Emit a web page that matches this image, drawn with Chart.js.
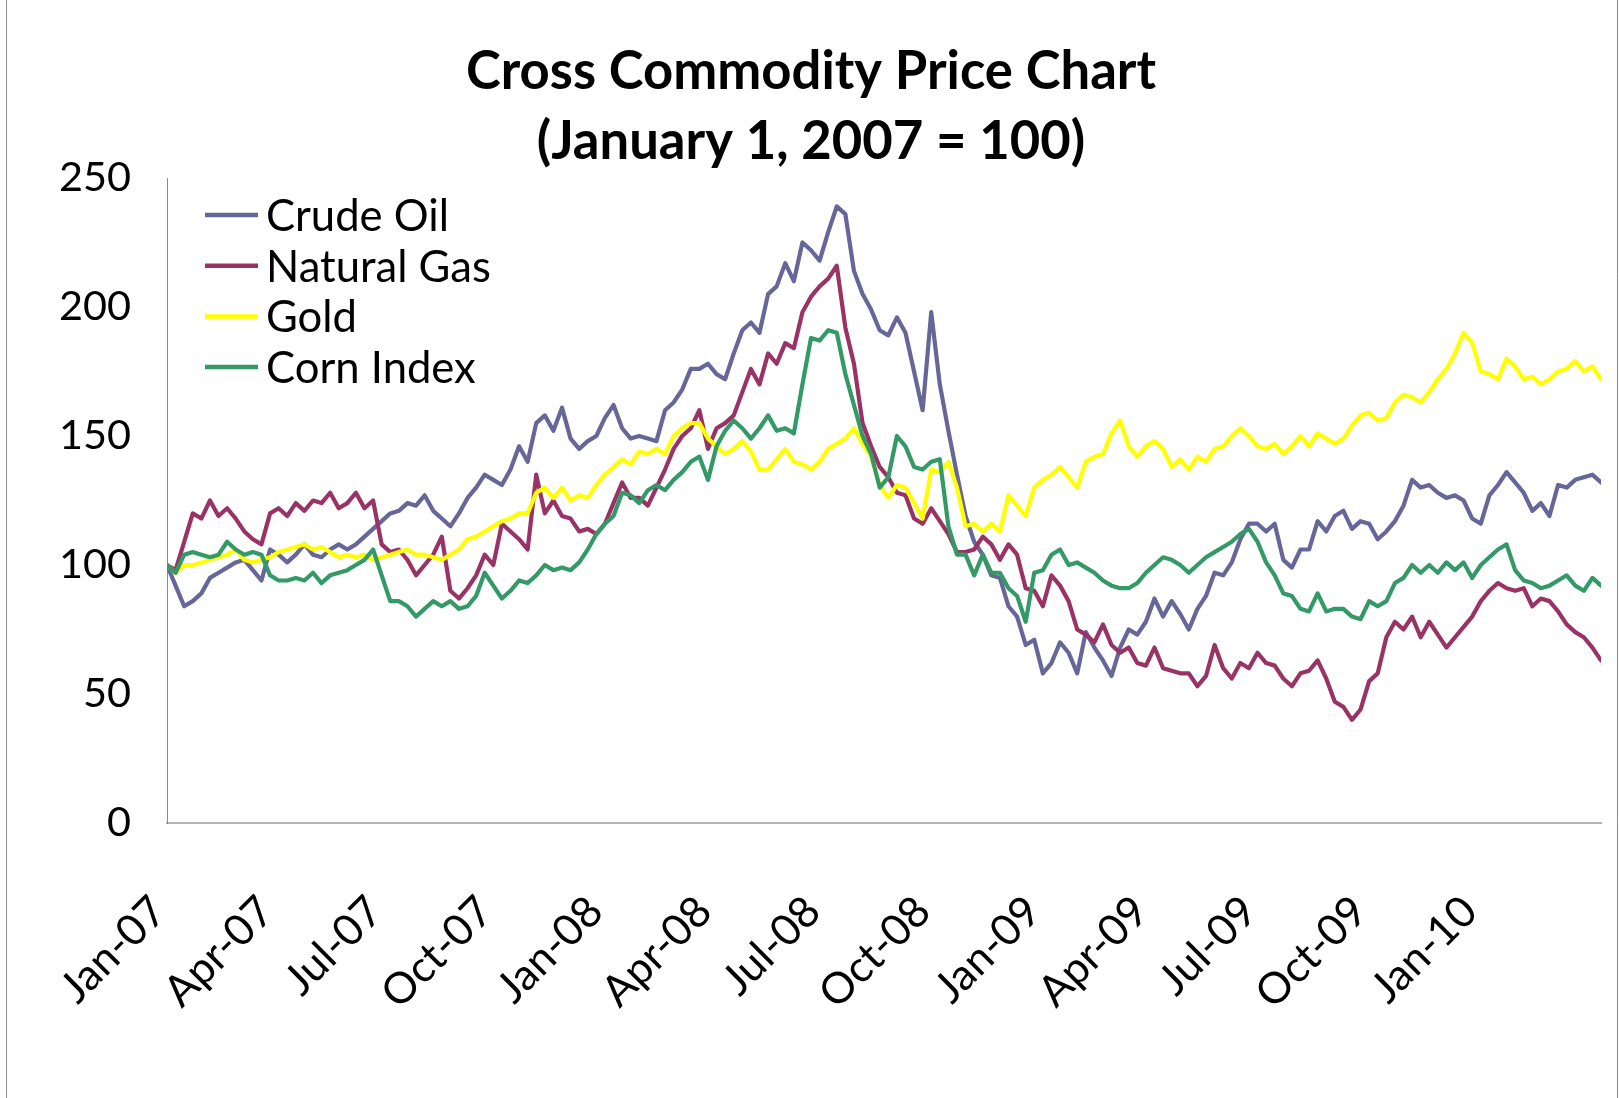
<!DOCTYPE html>
<html>
<head>
<meta charset="utf-8">
<title>Cross Commodity Price Chart</title>
<script src="https://cdn.jsdelivr.net/npm/chart.js@4.4.1/dist/chart.umd.min.js"></script>
<style>
    html, body { margin: 0; padding: 0; background: #ffffff; }
    #wrap { position: relative; width: 1619px; height: 1098px; }
</style>
</head>
<body>
<div id="wrap"><canvas id="precoChart" width="1619" height="1098"></canvas></div>
<script>
// Valores (1 jan 2007 = 100), um ponto a cada ~7 dias
const stepDays = 7.18;

const crudeOil = [
    100, 92, 84, 86, 89, 95, 97, 99, 101, 102, 98, 94, 106, 104, 101, 104, 108, 104, 103, 106, 108,
    106, 108, 111, 114, 117, 120, 121, 124, 123, 127, 121, 118, 115, 120, 126, 130, 135, 133, 131, 137, 146,
    140, 155, 158, 152, 161, 149, 145, 148, 150, 157, 162, 153, 149, 150, 149, 148, 160, 163, 168, 176, 176,
    178, 174, 172, 182, 191, 194, 190, 205, 208, 217, 210, 225, 222, 218, 229, 239, 236, 214, 205, 199, 191,
    189, 196, 190, 175, 160, 198, 170, 152, 135, 119, 109, 104, 96, 95, 84, 80, 69, 71, 58, 62, 70,
    66, 58, 74, 68, 63, 57, 68, 75, 73, 78, 87, 80, 86, 81, 75, 83, 88, 97, 96, 101, 110,
    116, 116, 113, 116, 102, 99, 106, 106, 117, 113, 119, 121, 114, 117, 116, 110, 113, 117, 123, 133, 130,
    131, 128, 126, 127, 125, 118, 116, 127, 131, 136, 132, 128, 121, 124, 119, 131, 130, 133, 134, 135, 132
];

const naturalGas = [
    100, 98, 109, 120, 118, 125, 119, 122, 118, 113, 110, 108, 120, 122, 119, 124, 121, 125, 124, 128, 122,
    124, 128, 122, 125, 108, 105, 106, 102, 96, 100, 104, 111, 90, 87, 91, 96, 104, 100, 116, 113, 110,
    106, 135, 120, 125, 119, 118, 113, 114, 112, 116, 124, 132, 126, 126, 123, 130, 137, 145, 150, 153, 160,
    145, 153, 155, 158, 167, 176, 170, 182, 178, 186, 184, 198, 204, 208, 211, 216, 192, 178, 155, 146, 138,
    134, 128, 127, 118, 116, 122, 117, 112, 105, 105, 106, 111, 108, 102, 108, 104, 91, 90, 84, 96, 92,
    86, 75, 73, 70, 77, 69, 66, 68, 62, 61, 68, 60, 59, 58, 58, 53, 57, 69, 60, 56, 62,
    60, 66, 62, 61, 56, 53, 58, 59, 63, 56, 47, 45, 40, 44, 55, 58, 72, 78, 75, 80, 72,
    78, 73, 68, 72, 76, 80, 86, 90, 93, 91, 90, 91, 84, 87, 86, 82, 77, 74, 72, 68, 63
];

const gold = [
    100, 97, 100, 100, 101, 102, 103, 104, 106, 102, 101, 102, 103, 105, 106, 107, 108, 106, 107, 105, 103,
    104, 103, 104, 102, 103, 104, 105, 106, 104, 104, 103, 102, 104, 106, 110, 111, 113, 115, 117, 118, 120,
    120, 128, 130, 126, 130, 125, 127, 126, 131, 135, 138, 141, 139, 144, 143, 145, 143, 150, 153, 155, 155,
    149, 146, 143, 145, 148, 144, 137, 137, 141, 145, 140, 139, 137, 140, 145, 147, 149, 153, 147, 142, 131,
    126, 131, 130, 124, 118, 137, 136, 140, 130, 115, 116, 113, 116, 113, 127, 123, 119, 130, 133, 135, 138,
    134, 130, 140, 142, 143, 151, 156, 146, 142, 146, 148, 145, 138, 141, 137, 142, 140, 145, 146, 150, 153,
    150, 146, 145, 147, 143, 146, 150, 146, 151, 149, 147, 149, 154, 158, 159, 156, 157, 163, 166, 165, 163,
    167, 172, 176, 182, 190, 186, 175, 174, 172, 180, 177, 172, 173, 170, 172, 175, 176, 179, 175, 177, 172
];

const cornIndex = [
    100, 97, 104, 105, 104, 103, 104, 109, 106, 104, 105, 104, 96, 94, 94, 95, 94, 97, 93, 96, 97,
    98, 100, 102, 106, 96, 86, 86, 84, 80, 83, 86, 84, 86, 83, 84, 88, 97, 92, 87, 90, 94,
    93, 96, 100, 98, 99, 98, 101, 106, 112, 116, 119, 128, 127, 124, 129, 131, 129, 133, 136, 140, 142,
    133, 146, 152, 156, 153, 149, 153, 158, 152, 153, 151, 170, 188, 187, 191, 190, 174, 162, 150, 143, 130,
    134, 150, 146, 138, 137, 140, 141, 115, 104, 104, 96, 104, 97, 97, 91, 88, 78, 97, 98, 104, 106,
    100, 101, 99, 97, 94, 92, 91, 91, 93, 97, 100, 103, 102, 100, 97, 100, 103, 105, 107, 109, 112,
    114, 109, 101, 96, 89, 88, 83, 82, 89, 82, 83, 83, 80, 79, 86, 84, 86, 93, 95, 100, 97,
    100, 97, 101, 98, 101, 95, 100, 103, 106, 108, 98, 94, 93, 91, 92, 94, 96, 92, 90, 95, 92
];

// Rótulos do eixo X: dias desde 1 jan 2007 no início de cada trimestre
const tickDays = [0, 90, 181, 273, 365, 456, 547, 639, 731, 821, 912, 1004, 1096];
const tickLabels = ['Jan-07', 'Apr-07', 'Jul-07', 'Oct-07', 'Jan-08', 'Apr-08', 'Jul-08',
    'Oct-08', 'Jan-09', 'Apr-09', 'Jul-09', 'Oct-09', 'Jan-10'];

const seriesNames = ['Crude Oil', 'Natural Gas', 'Gold', 'Corn Index'];
const seriesValues = [crudeOil, naturalGas, gold, cornIndex];
const seriesColors = ['#666699', '#993366', '#FFFF00', '#339966'];

const titleLines = ['Cross Commodity Price Chart', '(January 1, 2007 = 100)'];

const fontFamily = 'Lato, "Open Sans", sans-serif';

// Ajusta o tamanho da fonte para a largura medida na imagem
function fitFontSize(text, weight, targetWidth) {
    const ctx = document.createElement('canvas').getContext('2d');
    ctx.font = `${weight} 100px ${fontFamily}`;
    return Math.round(1000 * targetWidth / ctx.measureText(text).width) / 10;
}

const titleSize = fitFontSize(titleLines[0], 'bold', 690);
const tickSize = fitFontSize('250', 'normal', 72);
const xTickSize = Math.round(tickSize * 1.04 * 10) / 10;
const legendSize = fitFontSize('Natural Gas', 'normal', 225);

function toPoints(values) {
    return values.map((v, i) => ({ x: i * stepDays, y: v }));
}

const lastDay = (crudeOil.length - 1) * stepDays;

// Borda externa da área do gráfico (estilo Excel)
const outerBorder = {
    id: 'outerBorder',
    beforeDraw(chart) {
        const ctx = chart.ctx;
        ctx.save();
        ctx.fillStyle = '#ffffff';
        ctx.fillRect(0, 0, chart.width, chart.height);
        ctx.strokeStyle = '#8c8c8c';
        ctx.lineWidth = 1;
        ctx.beginPath();
        ctx.moveTo(6.5, 0);
        ctx.lineTo(6.5, chart.height);
        ctx.moveTo(chart.width - 1.5, 0);
        ctx.lineTo(chart.width - 1.5, chart.height);
        ctx.stroke();
        ctx.restore();
    }
};

// Legenda dentro da área de plotagem, canto superior esquerdo
const insideLegend = {
    id: 'insideLegend',
    afterDraw(chart) {
        const ctx = chart.ctx;
        const area = chart.chartArea;
        ctx.save();
        ctx.font = `normal ${legendSize}px ${fontFamily}`;
        ctx.textBaseline = 'middle';
        ctx.textAlign = 'left';
        chart.data.datasets.forEach((ds, i) => {
            const y = area.top + 37 + i * 50.7;
            ctx.strokeStyle = ds.borderColor;
            ctx.lineWidth = 4.5;
            ctx.beginPath();
            ctx.moveTo(area.left + 38, y);
            ctx.lineTo(area.left + 91, y);
            ctx.stroke();
            ctx.fillStyle = '#000000';
            ctx.fillText(ds.label, area.left + 99, y + 2);
        });
        ctx.restore();
    }
};

const ctx = document.getElementById('precoChart').getContext('2d');
new Chart(ctx, {
    type: 'line',
    data: {
        datasets: seriesNames.map((name, i) => ({
            label: name,
            data: toPoints(seriesValues[i]),
            borderColor: seriesColors[i],
            backgroundColor: seriesColors[i],
            borderWidth: 4.2,
            borderJoinStyle: 'round',
            borderCapStyle: 'round',
            pointRadius: 0,
            tension: 0,
            fill: false,
            order: seriesNames.length - i
        }))
    },
    options: {
        responsive: false,
        animation: false,
        devicePixelRatio: 1,
        layout: {
            padding: { left: 21, right: 18, top: 0, bottom: 0 }
        },
        plugins: {
            legend: { display: false },
            tooltip: { enabled: false },
            title: {
                display: true,
                text: titleLines,
                color: '#000000',
                font: { family: fontFamily, weight: 'bold', size: titleSize, lineHeight: '70px' },
                padding: { top: 37, bottom: 1 }
            }
        },
        scales: {
            x: {
                type: 'linear',
                min: 0,
                max: lastDay,
                afterBuildTicks: scale => {
                    scale.ticks = tickDays.map(d => ({ value: d }));
                },
                afterFit: scale => {
                    scale.height = 275;
                },
                grid: { display: false, drawTicks: false },
                border: { color: '#b3b3b3', width: 2 },
                ticks: {
                    autoSkip: false,
                    maxRotation: 45,
                    minRotation: 45,
                    padding: 63,
                    labelOffset: -8,
                    color: '#000000',
                    font: { family: fontFamily, size: xTickSize },
                    callback: (value, index) => tickLabels[index]
                }
            },
            y: {
                min: 0,
                max: 250,
                afterFit: scale => {
                    scale.width = 146;
                },
                grid: { display: false, drawTicks: false },
                border: { color: '#8c8c8c', width: 1 },
                ticks: {
                    stepSize: 50,
                    padding: 36,
                    color: '#000000',
                    font: { family: fontFamily, size: tickSize }
                }
            }
        }
    },
    plugins: [outerBorder, insideLegend]
});
</script>
</body>
</html>
